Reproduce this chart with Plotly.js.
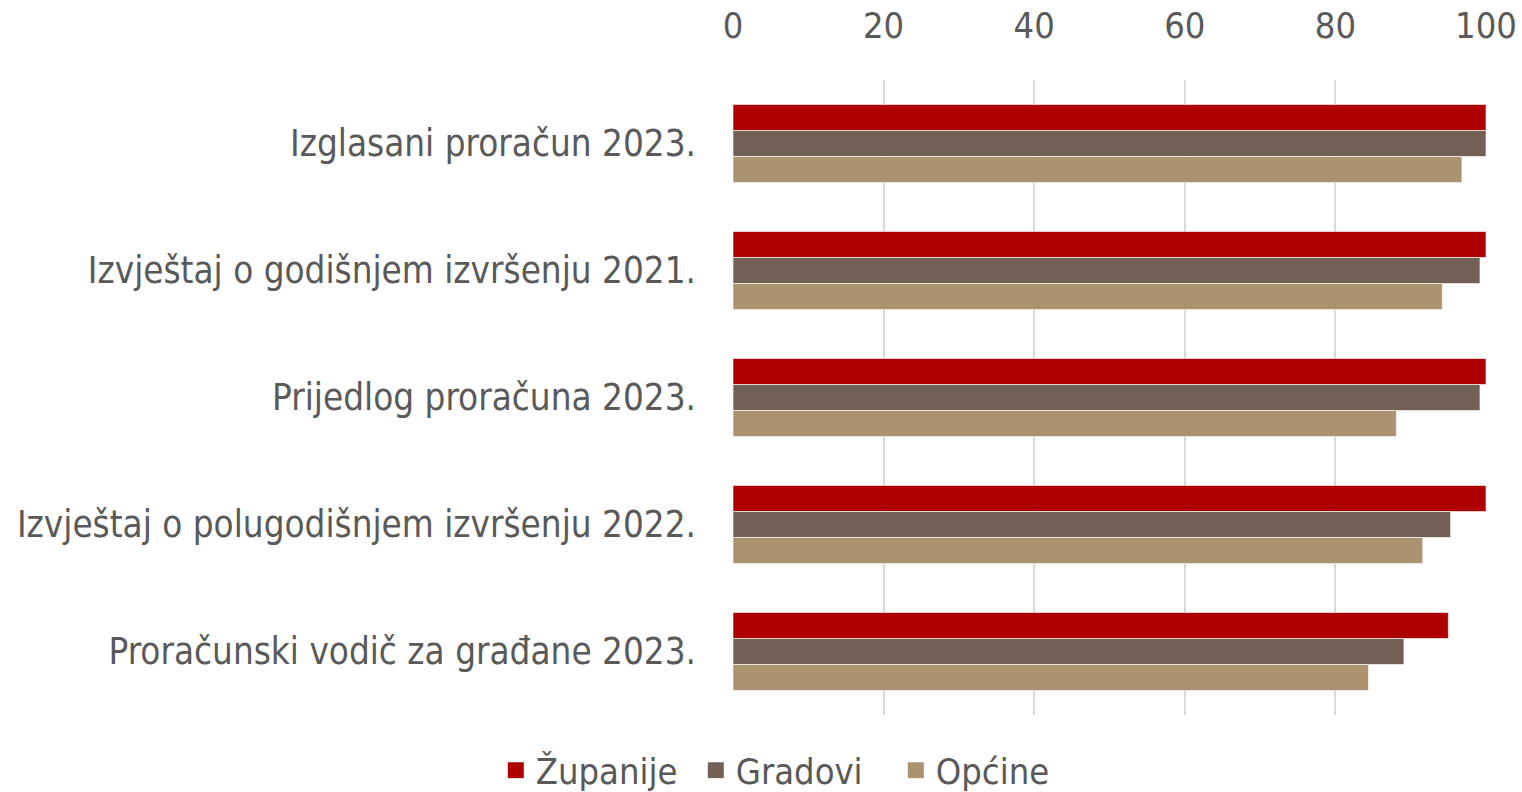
<!DOCTYPE html>
<html>
<head>
<meta charset="utf-8">
<script src="https://cdn.plot.ly/plotly-3.0.1.min.js"></script>
<style>html,body{margin:0;padding:0;background:#fff;}#chart{width:1522px;height:792px;}</style>
</head>
<body>
<div id="chart"></div>
<script>
const categories = [
  "Izglasani proračun 2023.",
  "Izvještaj o godišnjem izvršenju 2021.",
  "Prijedlog proračuna 2023.",
  "Izvještaj o polugodišnjem izvršenju 2022.",
  "Proračunski vodič za građane 2023."
];
const zupanije = [100, 100, 100, 100, 95.0];
const gradovi = [100, 99.2, 99.2, 95.3, 89.1];
const opcine = [96.8, 94.2, 88.1, 91.6, 84.4];
const seriesNames = ["Županije", "Gradovi", "Općine"];
const seriesColors = ["#AE0000", "#736055", "#AB9370"];
const xTicks = [0, 20, 40, 60, 80, 100];

const font = "Tahoma, 'DejaVu Sans Condensed', 'DejaVu Sans', sans-serif";
const bars = [zupanije, gradovi, opcine].map((vals, i) => ({
  type: "bar",
  orientation: "h",
  name: seriesNames[i],
  legendgroup: seriesNames[i],
  showlegend: false,
  y: categories,
  x: vals,
  marker: {color: seriesColors[i], line: {color: "rgba(255,255,255,0.6)", width: 1}},
  hoverinfo: "x+name"
}));
const legendTraces = seriesNames.map((n, i) => ({
  type: "scatter", mode: "markers", name: n, legendgroup: n,
  x: [null], y: [null],
  marker: {symbol: "square", size: 20, color: seriesColors[i]},
  hoverinfo: "skip"
}));

const layout = {
  width: 1522, height: 792,
  margin: {l: 733, r: 36, t: 80, b: 77, pad: 0, autoexpand: false},
  paper_bgcolor: "#fff", plot_bgcolor: "#fff",
  barmode: "group",
  bargap: 0.386,
  bargroupgap: 0,
  font: {family: font, color: "#595959", size: 36},
  xaxis: {
    side: "top", range: [0, 100], tickvals: xTicks, ticktext: xTicks.map(String),
    showgrid: true, gridcolor: "#d9d9d9", gridwidth: 1.5, zeroline: false,
    showline: false, ticks: "", ticklabelstandoff: 34,
    tickfont: {family: font, size: 36, color: "#595959"}
  },
  yaxis: {
    autorange: "reversed", showgrid: false, zeroline: false, showline: false,
    ticks: "", ticklabelstandoff: 36,
    tickfont: {family: font, size: 36.5, color: "#595959"}
  },
  showlegend: true,
  legend: {
    orientation: "h", x: -0.315, xanchor: "left", y: -0.087, yanchor: "middle",
    font: {family: font, size: 36, color: "#595959"},
    itemwidth: 30, traceorder: "normal", itemsizing: "trace",
    entrywidth: 155
  }
};
Plotly.newPlot("chart", bars.concat(legendTraces), layout, {displayModeBar: false});
</script>
</body>
</html>
